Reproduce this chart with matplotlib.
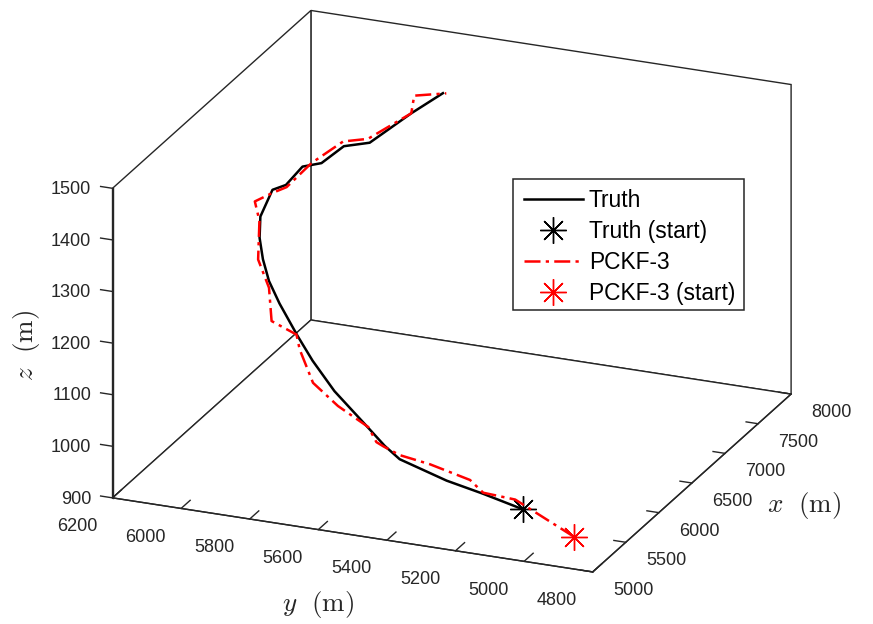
import matplotlib
matplotlib.use("Agg")
import matplotlib.pyplot as plt
from matplotlib.patches import Rectangle
from matplotlib.ticker import NullFormatter

# trajetoria verdadeira
truth_x = [5500, 5600, 5700, 5800, 5900, 6000, 6100, 6200, 6300, 6400, 6500,
           6600, 6700, 6800, 6900, 7000, 7100, 7200, 7300, 7400, 7500, 7600]
truth_y = [5099, 5236, 5361, 5517, 5580, 5648, 5765, 5848, 5911, 5983, 6033,
           6070, 6099, 6116, 6100, 6080, 6051, 6015, 5969, 5913, 5811, 5738]
truth_z = [933, 938, 939, 953, 961, 978, 1025, 1064, 1094, 1138, 1165,
           1192, 1219, 1247, 1289, 1289, 1316, 1315, 1341, 1342, 1398, 1433]

# estimativa PCKF-3
pckf_x = [5300, 5550, 5600, 5650, 5720, 5800, 5880, 5920, 6000, 6080, 6180, 6280, 6340,
          6420, 6500, 6600, 6760, 6820, 6900, 7000, 7180, 7300, 7400, 7500, 7560, 7620]
pckf_y = [4912, 5132, 5235, 5283, 5413, 5517, 5579, 5608, 5647, 5751, 5843, 5901, 5922,
          6010, 6033, 6084, 6111, 6136, 6100, 6078, 6040, 5971, 5918, 5811, 5814, 5732]
pckf_z = [922, 943, 940, 954, 963, 961, 962, 963, 979, 1000, 1024, 1071, 1091,
          1099, 1152, 1190, 1244, 1272, 1283, 1285, 1315, 1350, 1349, 1398, 1425, 1431]

x_ticks = [5000, 5500, 6000, 6500, 7000, 7500, 8000]
y_ticks = [4800, 5000, 5200, 5400, 5600, 5800, 6000, 6200]
z_ticks = [900, 1000, 1100, 1200, 1300, 1400, 1500]

dark = "#262626"
plt.rcParams["font.family"] = ["Liberation Sans", "DejaVu Sans"]
plt.rcParams["mathtext.fontset"] = "cm"

W, H = 873, 624
fig = plt.figure(figsize=(W/100, H/100), dpi=100)

# centro da caixa ajustado a olho
side = 800
ax = fig.add_axes([(441 - side/2)/W, (H - 302 - side/2)/H, side/W, side/H],
                  projection="3d", proj_type="ortho")
ax.view_init(elev=21.83, azim=-157.47)
ax.set_box_aspect((1, 1.004, 0.644), zoom=0.978)
ax.patch.set_alpha(0)

dashdot = (0, (6.4, 2.1, 1.3, 2.1))
star = (8, 2, 0)

ax.plot(truth_x, truth_y, truth_z, color="k", lw=1.8, label="Truth")
ax.plot(truth_x[:1], truth_y[:1], truth_z[:1], ls="none", color="k", marker=star,
        ms=19, mew=1.0, label="Truth (start)")
ax.plot(pckf_x, pckf_y, pckf_z, color="r", lw=1.8, ls=dashdot, label="PCKF-3")
ax.plot(pckf_x[:1], pckf_y[:1], pckf_z[:1], ls="none", color="r", marker=star,
        ms=19, mew=1.0, label="PCKF-3 (start)")

ax.set_xlim(5000, 8000, view_margin=0)
ax.set_ylim(4800, 6200, view_margin=0)
ax.set_zlim(900, 1500, view_margin=0)
ax.set_xticks(x_ticks)
ax.set_yticks(y_ticks)
ax.set_zticks(z_ticks)
# eixo z na aresta esquerda, com os ticks na direcao de y
ax.zaxis._axinfo["juggled"] = (1, 2, 0)
ax.zaxis.set_ticks_position("lower")
ax.grid(False)

factors = {"x": 0.31, "y": 0.57, "z": 0.31}
for name, axis in (("x", ax.xaxis), ("y", ax.yaxis), ("z", ax.zaxis)):
    axis.set_pane_color("white")
    axis.pane.set_closed(True)
    axis.pane.set_edgecolor(dark)
    axis.pane.set_linewidth(1.0)
    axis.line.set_color(dark)
    axis.line.set_linewidth(1.0)
    axis._axinfo["tick"]["inward_factor"] = 0.0
    axis._axinfo["tick"]["outward_factor"] = factors[name]
    axis._axinfo["tick"]["linewidth"] = {True: 1.0, False: 0.5}
    axis.set_major_formatter(NullFormatter())
    ax.tick_params(axis=name, colors=dark)

# rotulos dos ticks, deslocados em unidades dos dados
tick_fs = 13
for xt in x_ticks:
    ax.text(xt, 4800 - 118, 900 - 24, str(xt), ha="center", va="center",
            fontsize=tick_fs, color=dark)
for yt in y_ticks:
    ax.text(5000 - 537, yt, 900 + 6, str(yt), ha="center", va="center",
            fontsize=tick_fs, color=dark)
for zt in z_ticks:
    ax.text(5000, 6200 + 62, zt - 8.6, str(zt), ha="right", va="center",
            fontsize=tick_fs, color=dark)

# nomes dos eixos
label_fs = 19.5
ax.text(6500, 4473, 889, r"$x\ \ \mathrm{(m)}$", ha="center", va="center",
        fontsize=label_fs, color=dark)
ax.text(4470, 5500, 826, r"$y\ \ \mathrm{(m)}$", ha="center", va="center",
        fontsize=label_fs, color=dark)
fig.text(27/W, 1 - 345/H, r"$z\ \ \mathrm{(m)}$", ha="center", va="center",
         rotation=90, fontsize=label_fs, color=dark)

# legenda sem moldura + retangulo separado (texto fica melhor centrado na caixa)
ax.legend(loc="upper left", bbox_to_anchor=(514/W, 1 - 179/H),
          bbox_transform=fig.transFigure, borderaxespad=0, fontsize=16.4,
          frameon=False, labelspacing=0.36,
          handlelength=2.6, handletextpad=0.26, borderpad=0.42)
fig.add_artist(Rectangle((513/W, 1 - 310/H), 231/W, 131/H, transform=fig.transFigure,
                         fill=False, edgecolor=dark, linewidth=1.1))

fig.savefig("out.png", dpi=100)
